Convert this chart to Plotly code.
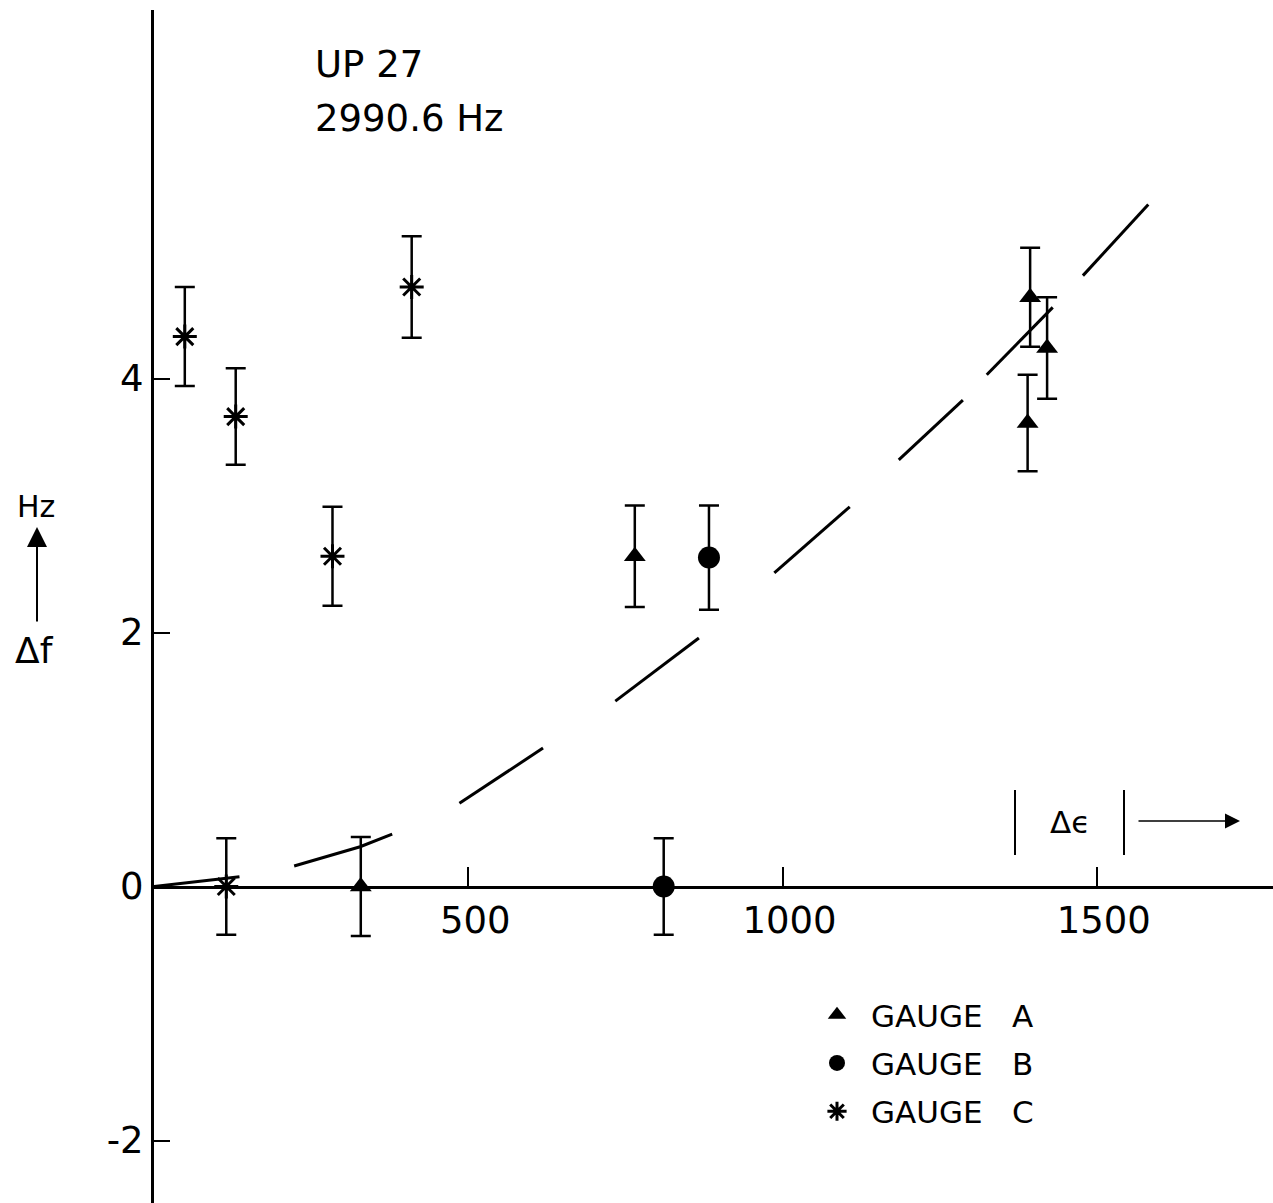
import plotly.graph_objects as go

# ---------------- data ----------------
gauge_a_x = [329, 765, 1394, 1421, 1390]
gauge_a_y = [0.0, 2.60, 4.64, 4.24, 3.65]
gauge_a_err = [0.39, 0.40, 0.39, 0.40, 0.38]

gauge_b_x = [811, 883]
gauge_b_y = [0.0, 2.59]
gauge_b_err = [0.38, 0.41]

gauge_c_x = [49, 130, 284, 410, 115]
gauge_c_y = [4.33, 3.70, 2.60, 4.72, 0.0]
gauge_c_err = [0.39, 0.38, 0.39, 0.40, 0.38]

# dashed fit curve (dash segments separated by None)
curve_x = [0, 136, None, 223, 328, 379, None, 486, 619, None, 734, 867, None,
           987, 1107, None, 1185, 1287, None, 1325, 1430, None, 1478, 1582]
curve_y = [0, 0.077, None, 0.161, 0.313, 0.413, None, 0.655, 1.09, None, 1.46, 1.957, None,
           2.47, 2.99, None, 3.36, 3.83, None, 4.03, 4.56, None, 4.81, 5.37]

x_tickvals = [500, 1000, 1500]
x_ticktext = ["500", "1000", "1500"]
y_tickvals = [-2, 0, 2, 4]
y_ticktext = ["-2", "0", "2", "4"]

legend_names = ["GAUGE\u00a0\u00a0\u00a0A", "GAUGE\u00a0\u00a0\u00a0B", "GAUGE\u00a0\u00a0\u00a0C"]

# ---------------- layout geometry ----------------
W, H = 1273, 1203
T = 10
X0PX = 154          # pixel of x = 0
PX_PER_UNIT = 0.6285
Y0PX = 886.5        # pixel of y = 0
PY_PER_UNIT = 127.0

xdom0 = X0PX / W
xmax = (W - X0PX) / PX_PER_UNIT
ybot = -(H - Y0PX) / PY_PER_UNIT
ytop = (Y0PX - T) / PY_PER_UNIT
xaxis_pos = (H - Y0PX) / (H - T)


def pxp(xpix):
    return xpix / W


def pyp(ypix):
    return (H - ypix) / (H - T)


FONT = "DejaVu Sans"
BLACK = "black"

fig = go.Figure()

fig.add_trace(go.Scatter(
    x=curve_x, y=curve_y, mode="lines", connectgaps=False,
    line=dict(color=BLACK, width=3), showlegend=False, hoverinfo="skip"))

err_style = dict(type="data", visible=True, color=BLACK, thickness=2.5, width=10)

fig.add_trace(go.Scatter(
    x=gauge_a_x, y=gauge_a_y, mode="markers", name=legend_names[0], legendgroup="A",
    marker=dict(symbol="triangle-up", size=19, color=BLACK),
    error_y=dict(array=gauge_a_err, **err_style)))

fig.add_trace(go.Scatter(
    x=gauge_b_x, y=gauge_b_y, mode="markers", name=legend_names[1], legendgroup="B",
    marker=dict(symbol="circle", size=22, color=BLACK),
    error_y=dict(array=gauge_b_err, **err_style)))

fig.add_trace(go.Scatter(
    x=gauge_c_x, y=gauge_c_y, mode="markers", name=legend_names[2], legendgroup="C",
    marker=dict(symbol="asterisk-open", size=20, color=BLACK,
                line=dict(color=BLACK, width=3)),
    error_y=dict(array=gauge_c_err, **err_style)))

annotations = [
    dict(text="UP 27", x=pxp(313), y=pyp(65), xref="paper", yref="paper",
         xanchor="left", yanchor="middle", showarrow=False,
         font=dict(family=FONT, size=37, color=BLACK)),
    dict(text="2990.6 Hz", x=pxp(313), y=pyp(119), xref="paper", yref="paper",
         xanchor="left", yanchor="middle", showarrow=False,
         font=dict(family=FONT, size=37, color=BLACK)),
    dict(text="Hz", x=pxp(36), y=pyp(506), xref="paper", yref="paper",
         xanchor="center", yanchor="middle", showarrow=False,
         font=dict(family=FONT, size=30, color=BLACK)),
    dict(text="Δf", x=pxp(34), y=pyp(650), xref="paper", yref="paper",
         xanchor="center", yanchor="middle", showarrow=False,
         font=dict(family=FONT, size=36, color=BLACK)),
    dict(text="Δϵ", x=pxp(1070), y=pyp(822), xref="paper", yref="paper",
         xanchor="center", yanchor="middle", showarrow=False,
         font=dict(family=FONT, size=31, color=BLACK)),
    dict(text="", x=pxp(37), y=pyp(527), xref="paper", yref="paper",
         ax=0, ay=96, axref="pixel", ayref="pixel",
         showarrow=True, arrowhead=2, arrowsize=2, arrowwidth=2, arrowcolor=BLACK),
    dict(text="", x=pxp(1240), y=pyp(821), xref="paper", yref="paper",
         ax=-103, ay=0, axref="pixel", ayref="pixel",
         showarrow=True, arrowhead=2, arrowsize=2, arrowwidth=1.5, arrowcolor=BLACK),
]

shapes = [
    dict(type="line", xref="paper", yref="paper", x0=pxp(1015), x1=pxp(1015),
         y0=pyp(790), y1=pyp(855), line=dict(color=BLACK, width=2)),
    dict(type="line", xref="paper", yref="paper", x0=pxp(1124), x1=pxp(1124),
         y0=pyp(790), y1=pyp(855), line=dict(color=BLACK, width=2)),
]

fig.update_layout(
    width=W, height=H,
    margin=dict(l=0, r=0, t=T, b=0, pad=0),
    paper_bgcolor="white", plot_bgcolor="white",
    font=dict(family=FONT, color=BLACK),
    annotations=annotations, shapes=shapes,
    showlegend=True,
    legend=dict(x=pxp(803), y=pyp(988), xanchor="left", yanchor="top",
                bgcolor="rgba(0,0,0,0)", tracegroupgap=5, itemwidth=58,
                font=dict(family=FONT, size=31, color=BLACK)),
    xaxis=dict(domain=[xdom0, 1], range=[0, xmax], anchor="free", position=xaxis_pos,
               showline=True, linecolor=BLACK, linewidth=3, showgrid=False, zeroline=False,
               ticks="inside", ticklen=19, tickwidth=2, tickcolor=BLACK,
               tickvals=x_tickvals, ticktext=x_ticktext, ticklabelshift=7,
               tickfont=dict(family=FONT, size=37, color=BLACK)),
    yaxis=dict(domain=[0, 1], range=[ybot, ytop], anchor="x",
               showline=True, linecolor=BLACK, linewidth=3, showgrid=False, zeroline=False,
               ticks="inside", ticklen=16, tickwidth=2, tickcolor=BLACK,
               tickvals=y_tickvals, ticktext=y_ticktext,
               tickfont=dict(family=FONT, size=37, color=BLACK)),
)

fig.write_html("out.html", config={"displayModeBar": False},
               post_script="document.body.style.margin='0';")
